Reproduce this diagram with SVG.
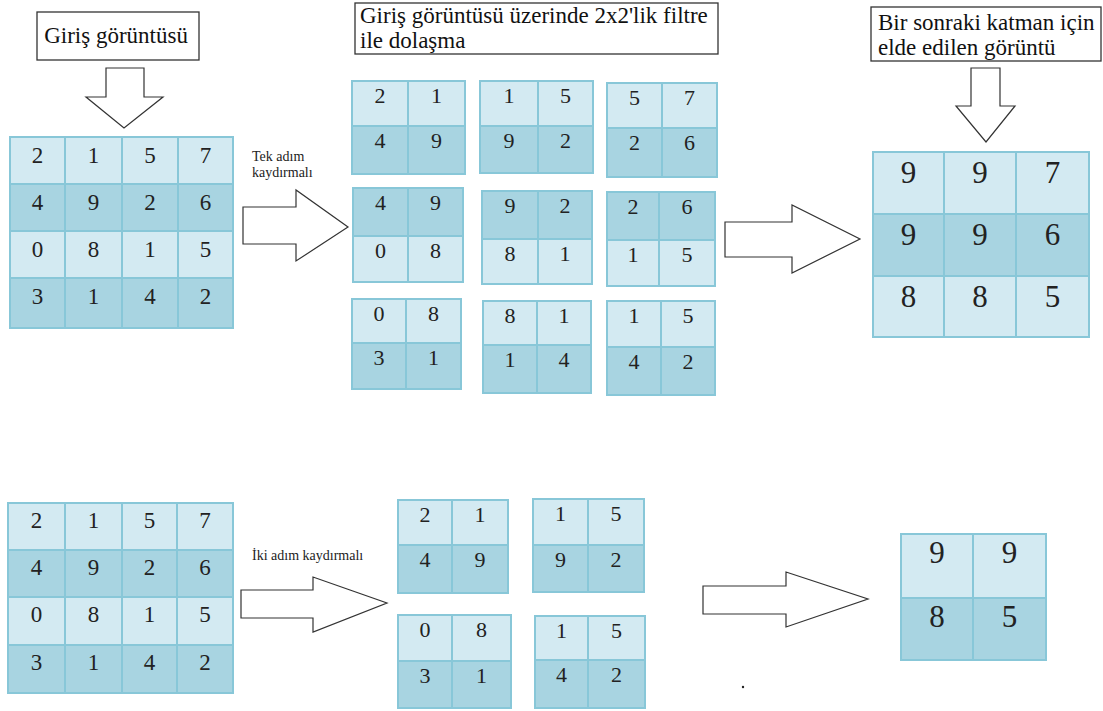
<svg xmlns="http://www.w3.org/2000/svg" width="1103" height="711" viewBox="0 0 1103 711">
  <style>
    text { font-family: 'Liberation Serif', 'Times New Roman', serif; }
    .lt { fill: #d3eaf2; }
    .dk { fill: #a8d4e1; }
    .gl { stroke: #88c7d8; stroke-width: 2; fill: none; }
    .n { font-size: 23px; fill: #222; text-anchor: middle; }
    .ns { font-size: 22px; fill: #222; text-anchor: middle; }
    .nb { font-size: 31px; fill: #222; text-anchor: middle; }
    .lbl { font-size: 23px; fill: #111; }
    .sm { font-size: 14px; fill: #222; }
    .box { fill: #fff; stroke: #333; stroke-width: 1.3; }
    .arr { fill: #fff; stroke: #333; stroke-width: 1.2; }
  </style>

  <rect width="1103" height="711" fill="#fff"/>

  <!-- caption boxes -->
  <g id="label-input">
    <rect class="box" x="37" y="12" width="162" height="48"/>
    <text class="lbl" x="116" y="43" text-anchor="middle" font-size="26">Giriş görüntüsü</text>
  </g>
  <g id="label-filter">
    <rect class="box" x="355" y="3" width="363" height="51"/>
    <text class="lbl" x="360" y="23">Giriş görüntüsü üzerinde 2x2'lik filtre</text>
    <text class="lbl" x="360" y="48">ile dolaşma</text>
  </g>
  <g id="label-output">
    <rect class="box" x="871" y="7" width="230" height="54"/>
    <text class="lbl" x="878" y="30">Bir sonraki katman için</text>
    <text class="lbl" x="878" y="55">elde edilen görüntü</text>
  </g>

  <!-- block arrows -->
  <g id="connectors">
    <path class="arr" d="M106,68 H144 V97 H163 L124,128 L86,97 H106 Z"/>
    <path class="arr" d="M243,207 H296 V190 L348,227 L296,261 V244 H243 Z"/>
    <path class="arr" d="M725,222 H792 V205 L860,239 L792,273 V257 H725 Z"/>
    <path class="arr" d="M971,68 H1000 V106 H1015 L986,142 L956,106 H971 Z"/>
    <path class="arr" d="M241,590 H313 V577 L387,603 L313,632 V618 H241 Z"/>
    <path class="arr" d="M703,586 H786 V572 L868,599 L786,627 V614 H703 Z"/>
    <text class="sm" x="252" y="161">Tek adım</text>
    <text class="sm" x="252" y="177">kaydırmalı</text>
    <text class="sm" x="252" y="560" font-size="13.5">İki adım kaydırmalı</text>
  </g>

  <!-- 4x4 input, stride 1 -->
  <g id="input-stride1">
    <rect class="lt" x="10" y="137" width="223" height="47"/>
    <rect class="dk" x="10" y="184" width="223" height="47"/>
    <rect class="lt" x="10" y="231" width="223" height="47"/>
    <rect class="dk" x="10" y="278" width="223" height="50"/>
    <rect class="gl" x="10" y="137" width="223" height="191"/>
    <path class="gl" d="M65,137 V328 M122,137 V328 M178,137 V328 M10,184 H233 M10,231 H233 M10,278 H233"/>
    <text class="n" x="37.5" y="163">2</text><text class="n" x="93.5" y="163">1</text><text class="n" x="150" y="163">5</text><text class="n" x="205.5" y="163">7</text>
    <text class="n" x="37.5" y="210">4</text><text class="n" x="93.5" y="210">9</text><text class="n" x="150" y="210">2</text><text class="n" x="205.5" y="210">6</text>
    <text class="n" x="37.5" y="257">0</text><text class="n" x="93.5" y="257">8</text><text class="n" x="150" y="257">1</text><text class="n" x="205.5" y="257">5</text>
    <text class="n" x="37.5" y="304">3</text><text class="n" x="93.5" y="304">1</text><text class="n" x="150" y="304">4</text><text class="n" x="205.5" y="304">2</text>
  </g>

  <!-- 2x2 windows, stride 1 -->
  <g id="win-1-1">
    <rect class="lt" x="352" y="81" width="113" height="45"/><rect class="dk" x="352" y="126" width="113" height="48"/>
    <rect class="gl" x="352" y="81" width="113" height="93"/><path class="gl" d="M408,81 V174 M352,126 H465"/>
    <text class="ns" x="380" y="103">2</text><text class="ns" x="436.5" y="103">1</text>
    <text class="ns" x="380" y="148">4</text><text class="ns" x="436.5" y="148">9</text>
  </g>
  <g id="win-1-2">
    <rect class="lt" x="480" y="81" width="113" height="45"/><rect class="dk" x="480" y="126" width="113" height="47"/>
    <rect class="gl" x="480" y="81" width="113" height="92"/><path class="gl" d="M538,81 V173 M480,126 H593"/>
    <text class="ns" x="509" y="103">1</text><text class="ns" x="565.5" y="103">5</text>
    <text class="ns" x="509" y="148">9</text><text class="ns" x="565.5" y="148">2</text>
  </g>
  <g id="win-1-3">
    <rect class="lt" x="607" y="83" width="110" height="45"/><rect class="dk" x="607" y="128" width="110" height="49"/>
    <rect class="gl" x="607" y="83" width="110" height="94"/><path class="gl" d="M662,83 V177 M607,128 H717"/>
    <text class="ns" x="634.5" y="105">5</text><text class="ns" x="689.5" y="105">7</text>
    <text class="ns" x="634.5" y="150">2</text><text class="ns" x="689.5" y="150">6</text>
  </g>
  <g id="win-2-1">
    <rect class="dk" x="353" y="188" width="110" height="48"/><rect class="lt" x="353" y="236" width="110" height="46"/>
    <rect class="gl" x="353" y="188" width="110" height="94"/><path class="gl" d="M408,188 V282 M353,236 H463"/>
    <text class="ns" x="380.5" y="210">4</text><text class="ns" x="435.5" y="210">9</text>
    <text class="ns" x="380.5" y="258">0</text><text class="ns" x="435.5" y="258">8</text>
  </g>
  <g id="win-2-2">
    <rect class="dk" x="482" y="191" width="110" height="48"/><rect class="lt" x="482" y="239" width="110" height="45"/>
    <rect class="gl" x="482" y="191" width="110" height="93"/><path class="gl" d="M538,191 V284 M482,239 H592"/>
    <text class="ns" x="510" y="213">9</text><text class="ns" x="565" y="213">2</text>
    <text class="ns" x="510" y="261">8</text><text class="ns" x="565" y="261">1</text>
  </g>
  <g id="win-2-3">
    <rect class="dk" x="607" y="192" width="108" height="48"/><rect class="lt" x="607" y="240" width="108" height="46"/>
    <rect class="gl" x="607" y="192" width="108" height="94"/><path class="gl" d="M659,192 V286 M607,240 H715"/>
    <text class="ns" x="633" y="214">2</text><text class="ns" x="687" y="214">6</text>
    <text class="ns" x="633" y="262">1</text><text class="ns" x="687" y="262">5</text>
  </g>
  <g id="win-3-1">
    <rect class="lt" x="352" y="299" width="109" height="44"/><rect class="dk" x="352" y="343" width="109" height="46"/>
    <rect class="gl" x="352" y="299" width="109" height="90"/><path class="gl" d="M406,299 V389 M352,343 H461"/>
    <text class="ns" x="379" y="321">0</text><text class="ns" x="433.5" y="321">8</text>
    <text class="ns" x="379" y="365">3</text><text class="ns" x="433.5" y="365">1</text>
  </g>
  <g id="win-3-2">
    <rect class="lt" x="483" y="301" width="108" height="44"/><rect class="dk" x="483" y="345" width="108" height="48"/>
    <rect class="gl" x="483" y="301" width="108" height="92"/><path class="gl" d="M537,301 V393 M483,345 H591"/>
    <text class="ns" x="510" y="323">8</text><text class="ns" x="564" y="323">1</text>
    <text class="ns" x="510" y="367">1</text><text class="ns" x="564" y="367">4</text>
  </g>
  <g id="win-3-3">
    <rect class="lt" x="607" y="301" width="108" height="46"/><rect class="dk" x="607" y="347" width="108" height="48"/>
    <rect class="gl" x="607" y="301" width="108" height="94"/><path class="gl" d="M661,301 V395 M607,347 H715"/>
    <text class="ns" x="634" y="323">1</text><text class="ns" x="688" y="323">5</text>
    <text class="ns" x="634" y="369">4</text><text class="ns" x="688" y="369">2</text>
  </g>

  <!-- 3x3 result -->
  <g id="output-stride1">
    <rect class="lt" x="873" y="152" width="216" height="62"/>
    <rect class="dk" x="873" y="214" width="216" height="62"/>
    <rect class="lt" x="873" y="276" width="216" height="61"/>
    <rect class="gl" x="873" y="152" width="216" height="185"/>
    <path class="gl" d="M944,152 V337 M1016,152 V337 M873,214 H1089 M873,276 H1089"/>
    <text class="nb" x="908.5" y="183">9</text><text class="nb" x="980" y="183">9</text><text class="nb" x="1052.5" y="183">7</text>
    <text class="nb" x="908.5" y="245">9</text><text class="nb" x="980" y="245">9</text><text class="nb" x="1052.5" y="245">6</text>
    <text class="nb" x="908.5" y="307">8</text><text class="nb" x="980" y="307">8</text><text class="nb" x="1052.5" y="307">5</text>
  </g>

  <!-- 4x4 input, stride 2 -->
  <g id="input-stride2">
    <rect class="lt" x="8" y="503" width="225" height="47"/>
    <rect class="dk" x="8" y="550" width="225" height="47"/>
    <rect class="lt" x="8" y="597" width="225" height="48"/>
    <rect class="dk" x="8" y="645" width="225" height="48"/>
    <rect class="gl" x="8" y="503" width="225" height="190"/>
    <path class="gl" d="M65,503 V693 M122,503 V693 M177,503 V693 M8,550 H233 M8,597 H233 M8,645 H233"/>
    <text class="n" x="36.5" y="528">2</text><text class="n" x="93.5" y="528">1</text><text class="n" x="149.5" y="528">5</text><text class="n" x="205" y="528">7</text>
    <text class="n" x="36.5" y="575">4</text><text class="n" x="93.5" y="575">9</text><text class="n" x="149.5" y="575">2</text><text class="n" x="205" y="575">6</text>
    <text class="n" x="36.5" y="622">0</text><text class="n" x="93.5" y="622">8</text><text class="n" x="149.5" y="622">1</text><text class="n" x="205" y="622">5</text>
    <text class="n" x="36.5" y="670">3</text><text class="n" x="93.5" y="670">1</text><text class="n" x="149.5" y="670">4</text><text class="n" x="205" y="670">2</text>
  </g>

  <!-- 2x2 windows, stride 2 -->
  <g id="win-s2-1">
    <rect class="lt" x="398" y="500" width="110" height="45"/><rect class="dk" x="398" y="545" width="110" height="48"/>
    <rect class="gl" x="398" y="500" width="110" height="93"/><path class="gl" d="M452,500 V593 M398,545 H508"/>
    <text class="ns" x="425" y="522">2</text><text class="ns" x="480" y="522">1</text>
    <text class="ns" x="425" y="567">4</text><text class="ns" x="480" y="567">9</text>
  </g>
  <g id="win-s2-2">
    <rect class="lt" x="533" y="499" width="111" height="46"/><rect class="dk" x="533" y="545" width="111" height="47"/>
    <rect class="gl" x="533" y="499" width="111" height="93"/><path class="gl" d="M588,499 V592 M533,545 H644"/>
    <text class="ns" x="560.5" y="521">1</text><text class="ns" x="616" y="521">5</text>
    <text class="ns" x="560.5" y="567">9</text><text class="ns" x="616" y="567">2</text>
  </g>
  <g id="win-s2-3">
    <rect class="lt" x="398" y="615" width="113" height="46"/><rect class="dk" x="398" y="661" width="113" height="47"/>
    <rect class="gl" x="398" y="615" width="113" height="93"/><path class="gl" d="M452,615 V708 M398,661 H511"/>
    <text class="ns" x="425" y="637">0</text><text class="ns" x="481.5" y="637">8</text>
    <text class="ns" x="425" y="683">3</text><text class="ns" x="481.5" y="683">1</text>
  </g>
  <g id="win-s2-4">
    <rect class="lt" x="535" y="616" width="110" height="44"/><rect class="dk" x="535" y="660" width="110" height="48"/>
    <rect class="gl" x="535" y="616" width="110" height="92"/><path class="gl" d="M588,616 V708 M535,660 H645"/>
    <text class="ns" x="561.5" y="638">1</text><text class="ns" x="616.5" y="638">5</text>
    <text class="ns" x="561.5" y="682">4</text><text class="ns" x="616.5" y="682">2</text>
  </g>

  <!-- 2x2 result -->
  <g id="output-stride2">
    <rect class="lt" x="901" y="534" width="145" height="64"/>
    <rect class="dk" x="901" y="598" width="145" height="62"/>
    <rect class="gl" x="901" y="534" width="145" height="126"/>
    <path class="gl" d="M973,534 V660 M901,598 H1046"/>
    <text class="nb" x="937" y="563">9</text><text class="nb" x="1009.5" y="563">9</text>
    <text class="nb" x="937" y="627">8</text><text class="nb" x="1009.5" y="627">5</text>
  </g>

  <circle cx="743" cy="687" r="1.2" fill="#222"/>
</svg>
